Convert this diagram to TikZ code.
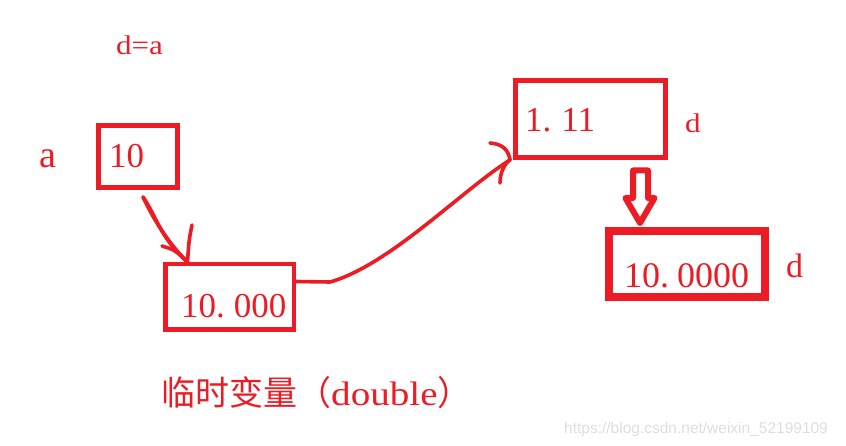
\documentclass[tikz,border=0pt]{standalone}
\usepackage{fontspec}
\setmainfont{Liberation Serif}
\newfontfamily\latf[FakeStretch=1.15]{Liberation Serif}
\newfontfamily\cjk{Noto Sans CJK SC}
\newfontfamily\wmf{Liberation Sans}
\definecolor{pred}{RGB}{237,28,36}
\newcommand{\fsz}[1]{\fontsize{#1}{#1}\selectfont}
\tikzset{
  membox/.style={draw=pred, rectangle, inner sep=0pt},
  lbl/.style={text=pred, inner sep=0pt, anchor=base west},
  hand/.style={draw=pred, line width=3.6pt, line cap=round, line join=round},
}
\begin{document}
\begin{tikzpicture}[x=1pt,y=-1pt]
\useasboundingbox (0,0) rectangle (846,446);
% boxes
\node[membox, line width=4.5pt, minimum width=79pt, minimum height=62pt] (ba) at (138,156.5) {};
\node[membox, line width=4.5pt, minimum width=128.5pt, minimum height=65.5pt] (bb) at (229.5,297) {};
\node[membox, line width=4.8pt, minimum width=150pt, minimum height=77pt] (bc) at (590.5,119) {};
\node[membox, line width=8pt, minimum width=156pt, minimum height=66pt] (bd) at (687,264) {};
% values
\node[lbl, font=\fsz{35}] (va) at (109,168) {10};
\node[lbl, font=\fsz{35}] (vb) at (181,318) {10.\kern9pt 000};
\node[lbl, font=\fsz{35}] (vc) at (525,132) {1.\kern10pt 11};
\node[lbl, font=\fsz{36}] (vd) at (624,288) {10.\kern8pt 0000};
% labels
\node[lbl, font=\fsz{38}] (la) at (39,168) {a};
\node[lbl, font=\latf\fsz{27}] (ld1) at (685,133) {d};
\node[lbl, font=\fsz{34}] (ld2) at (786,278) {d};
\node[lbl, font=\latf\fsz{27}] (title) at (116,55) {d=a};
\node[lbl, font=\fsz{34}] (tmp) at (161,405) {{\cjk 临时变量（}{\latf double}{\cjk ）}};
\node[anchor=base west, inner sep=0pt, text=black!13, font=\wmf\fsz{15.5}] (wm) at (564,433) {https://blog.csdn.net/weixin\_52199109};
% arrow a -> temp
\coordinate (s1) at (143,197);
\coordinate (e1) at ([xshift=-42pt]bb.north);
\draw[hand] (s1) .. controls (156,215) and (160,238) .. (e1);
\draw[hand] (s1) .. controls (150,212) and (165,240) .. (e1);
\draw[hand] (192,225) .. controls (189,240) .. (e1);
\draw[hand] (162,246) .. controls (175,250) .. (e1);
% arrow temp -> d
\coordinate (e2) at ([xshift=-3pt]bc.south west);
\draw[hand] ([yshift=15.5pt]bb.east) -- (330,282)
  .. controls (390,265) and (462,190) .. (e2);
\draw[hand] (490,143) .. controls (502,144) and (508,149) .. (e2);
\draw[hand] (500,183) .. controls (500,172) and (505,163) .. (e2);
% hollow arrow
\coordinate (t1) at ([xshift=-47pt,yshift=4pt]bd.north);
\draw[draw=pred, line width=6pt, line join=round] (633,170.5) -- (648,170.5) -- (648,198) -- (654.5,198) -- (t1) -- (625.5,198) -- (633,198) -- cycle;
\end{tikzpicture}
\end{document}
